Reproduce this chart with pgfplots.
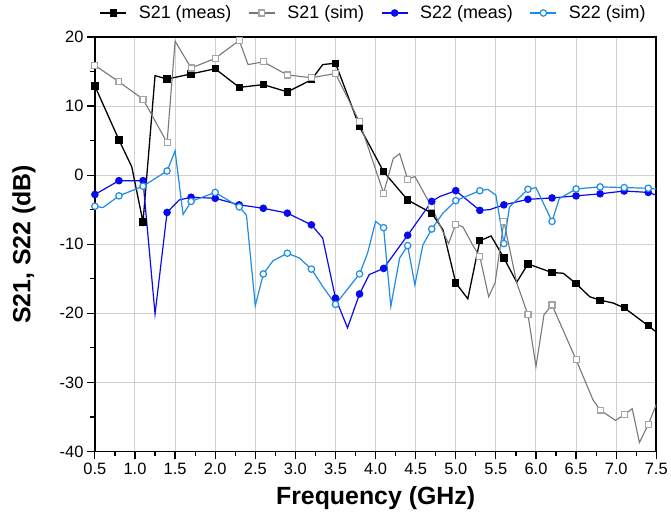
\documentclass[border=0pt]{standalone}
\usepackage{fontspec}
\setmainfont{Liberation Sans}
\usepackage{pgfplots}
\pgfplotsset{compat=1.18}

\definecolor{simgray}{RGB}{120,120,120}
\definecolor{simgraymk}{RGB}{165,165,165}
\definecolor{measblue}{RGB}{10,10,240}
\definecolor{simblue}{RGB}{30,140,230}
\definecolor{gridgray}{RGB}{208,208,208}

\begin{document}
\begin{tikzpicture}
\begin{axis}[
  scale only axis,
  width=562bp, height=415bp,
  xmin=0.5, xmax=7.5, ymin=-40, ymax=20,
  xtick={0.5,1,...,7.5}, ytick={-40,-30,...,20},
  minor x tick num=1, minor y tick num=1,
  xtick pos=bottom, ytick pos=left,
  tick align=outside,
  major tick length=8bp, minor tick length=5bp,
  every tick/.style={black, line width=1.2bp},
  grid=major,
  major grid style={gridgray, line width=1bp},
  axis line style={black, line width=1.8bp},
  /pgf/number format/assume math mode=true,
  tick label style={font=\fontsize{16.5}{18}\selectfont},
  xticklabel style={/pgf/number format/.cd, fixed, fixed zerofill, precision=1},
  yticklabel style={/pgf/number format/.cd, fixed, precision=0},
  xlabel={Frequency (GHz)},
  ylabel={S21, S22 (dB)},
  every axis x label/.style={at={(axis description cs:0.5,0)}, yshift=-47bp, anchor=center,
    font=\fontsize{25}{28}\selectfont\bfseries},
  every axis y label/.style={at={(axis description cs:0,0.5)}, xshift=-71bp, rotate=90, anchor=center,
    font=\fontsize{25}{28}\selectfont\bfseries},
  legend columns=4,
  legend style={draw=none, fill=none, at={(axis description cs:0.5,1)}, anchor=center,
    yshift=24bp, xshift=-2bp, font=\fontsize{18}{20}\selectfont,
    /tikz/every even column/.append style={column sep=15bp},
    /tikz/every odd column/.append style={column sep=10bp}},
  legend image code/.code={\draw[#1, mark indices={2}] plot coordinates {(0bp,0bp) (13bp,0bp) (26bp,0bp)};},
]

% S21 measured
\addplot[black, line width=1.3bp, mark=square*, mark size=3bp,
  mark options={solid, fill=black},
  mark indices={1,2,4,6,7,8,9,10,11,12,14,15,16,17,18,20,22,24,26,27,29,31,33,34}]
coordinates {
(0.5,12.9) (0.8,5.1) (0.96,1.2) (1.1,-6.8) (1.25,14.4) (1.4,13.9) (1.7,14.65)
(2.0,15.4) (2.3,12.7) (2.6,13.1) (2.9,12.05) (3.2,13.8) (3.34,16.0) (3.5,16.2)
(3.8,7.0) (4.1,0.5) (4.4,-3.6) (4.7,-5.5) (4.84,-7.9) (5.0,-15.6) (5.15,-17.9)
(5.3,-9.5) (5.44,-8.8) (5.6,-12.0) (5.76,-15.5) (5.9,-12.85) (6.2,-14.1) (6.34,-14.2)
(6.5,-15.7) (6.67,-17.6) (6.8,-18.1) (6.96,-18.5) (7.1,-19.2) (7.4,-21.8) (7.5,-22.7)
};
\addlegendentry{S21 (meas)}

% S21 simulated
\addplot[simgray, line width=1.1bp, mark=square*, mark size=3bp,
  mark options={solid, fill=white, draw=simgraymk},
  mark indices={1,2,3,4,6,7,8,10,11,12,13,14,15,18,20,23,26,29,31,34,35,37,39,42}]
coordinates {
(0.5,15.9) (0.8,13.5) (1.1,11.0) (1.4,4.7) (1.5,19.4) (1.7,15.5) (2.0,16.9)
(2.3,19.5) (2.41,16.0) (2.6,16.4) (2.9,14.5) (3.2,14.1) (3.5,14.7) (3.8,7.7)
(4.1,-2.6) (4.22,2.4) (4.3,3.1) (4.4,-0.6) (4.49,-0.2) (4.7,-4.6) (4.82,-7.7)
(4.91,-9.9) (5.0,-7.1) (5.09,-7.5) (5.21,-10.1) (5.3,-11.8) (5.41,-17.6) (5.49,-15.6)
(5.6,-6.7) (5.76,-15.6) (5.9,-20.2) (6.0,-27.7) (6.1,-20.2) (6.2,-18.8) (6.5,-26.7)
(6.71,-32.5) (6.8,-34.0) (6.99,-35.5) (7.1,-34.7) (7.2,-33.8) (7.29,-38.7) (7.4,-36.1)
(7.5,-33.2) (7.6,-32.2)
};
\addlegendentry{S21 (sim)}

% S22 measured
\addplot[measblue, line width=1.2bp, mark=*, mark size=3.2bp,
  mark options={solid, fill=measblue},
  mark indices={1,2,3,5,7,8,9,10,11,12,14,16,18,19,20,22,23,25,26,27,28,29,30,31}]
coordinates {
(0.5,-2.8) (0.8,-0.8) (1.1,-0.8) (1.25,-20.1) (1.4,-5.4) (1.55,-3.6) (1.7,-3.2)
(2.0,-3.35) (2.3,-4.3) (2.6,-4.8) (2.9,-5.5) (3.2,-7.2) (3.34,-9.1) (3.5,-17.8)
(3.65,-22.1) (3.8,-17.2) (3.92,-14.4) (4.1,-13.5) (4.4,-8.7) (4.7,-3.8) (4.8,-3.1)
(5.0,-2.25) (5.3,-5.1) (5.42,-5.0) (5.6,-4.3) (5.9,-3.5) (6.2,-3.3) (6.5,-3.0)
(6.8,-2.7) (7.1,-2.3) (7.4,-2.5) (7.5,-2.9)
};
\addlegendentry{S22 (meas)}

% S22 simulated
\addplot[simblue, line width=1.2bp, mark=*, mark size=3.2bp,
  mark options={solid, fill=white, draw=simblue},
  mark indices={1,3,4,5,8,9,10,13,15,17,19,20,23,26,29,31,32,35,37,39,41,42,43,44}]
coordinates {
(0.5,-4.5) (0.6,-4.7) (0.8,-3.0) (1.1,-1.6) (1.4,0.6) (1.5,3.5) (1.6,-5.7)
(1.7,-3.8) (2.0,-2.5) (2.3,-4.6) (2.39,-5.8) (2.5,-18.9) (2.6,-14.3) (2.72,-12.4)
(2.9,-11.3) (3.05,-12.0) (3.2,-13.6) (3.34,-16.1) (3.5,-18.7) (3.8,-14.3) (3.9,-11.3)
(4.0,-6.7) (4.1,-7.6) (4.19,-19.0) (4.3,-12.0) (4.4,-10.2) (4.49,-15.9) (4.59,-10.1)
(4.7,-7.8) (4.84,-5.5) (5.0,-3.7) (5.3,-2.25) (5.4,-2.05) (5.5,-2.9) (5.6,-9.9)
(5.67,-4.6) (5.9,-2.05) (6.0,-1.8) (6.2,-6.7) (6.29,-3.4) (6.5,-2.0) (6.8,-1.7)
(7.1,-1.8) (7.4,-1.9) (7.6,-2.15)
};
\addlegendentry{S22 (sim)}

\end{axis}
\path (-95bp,-73bp) rectangle (576bp,452bp);
\end{tikzpicture}
\end{document}
